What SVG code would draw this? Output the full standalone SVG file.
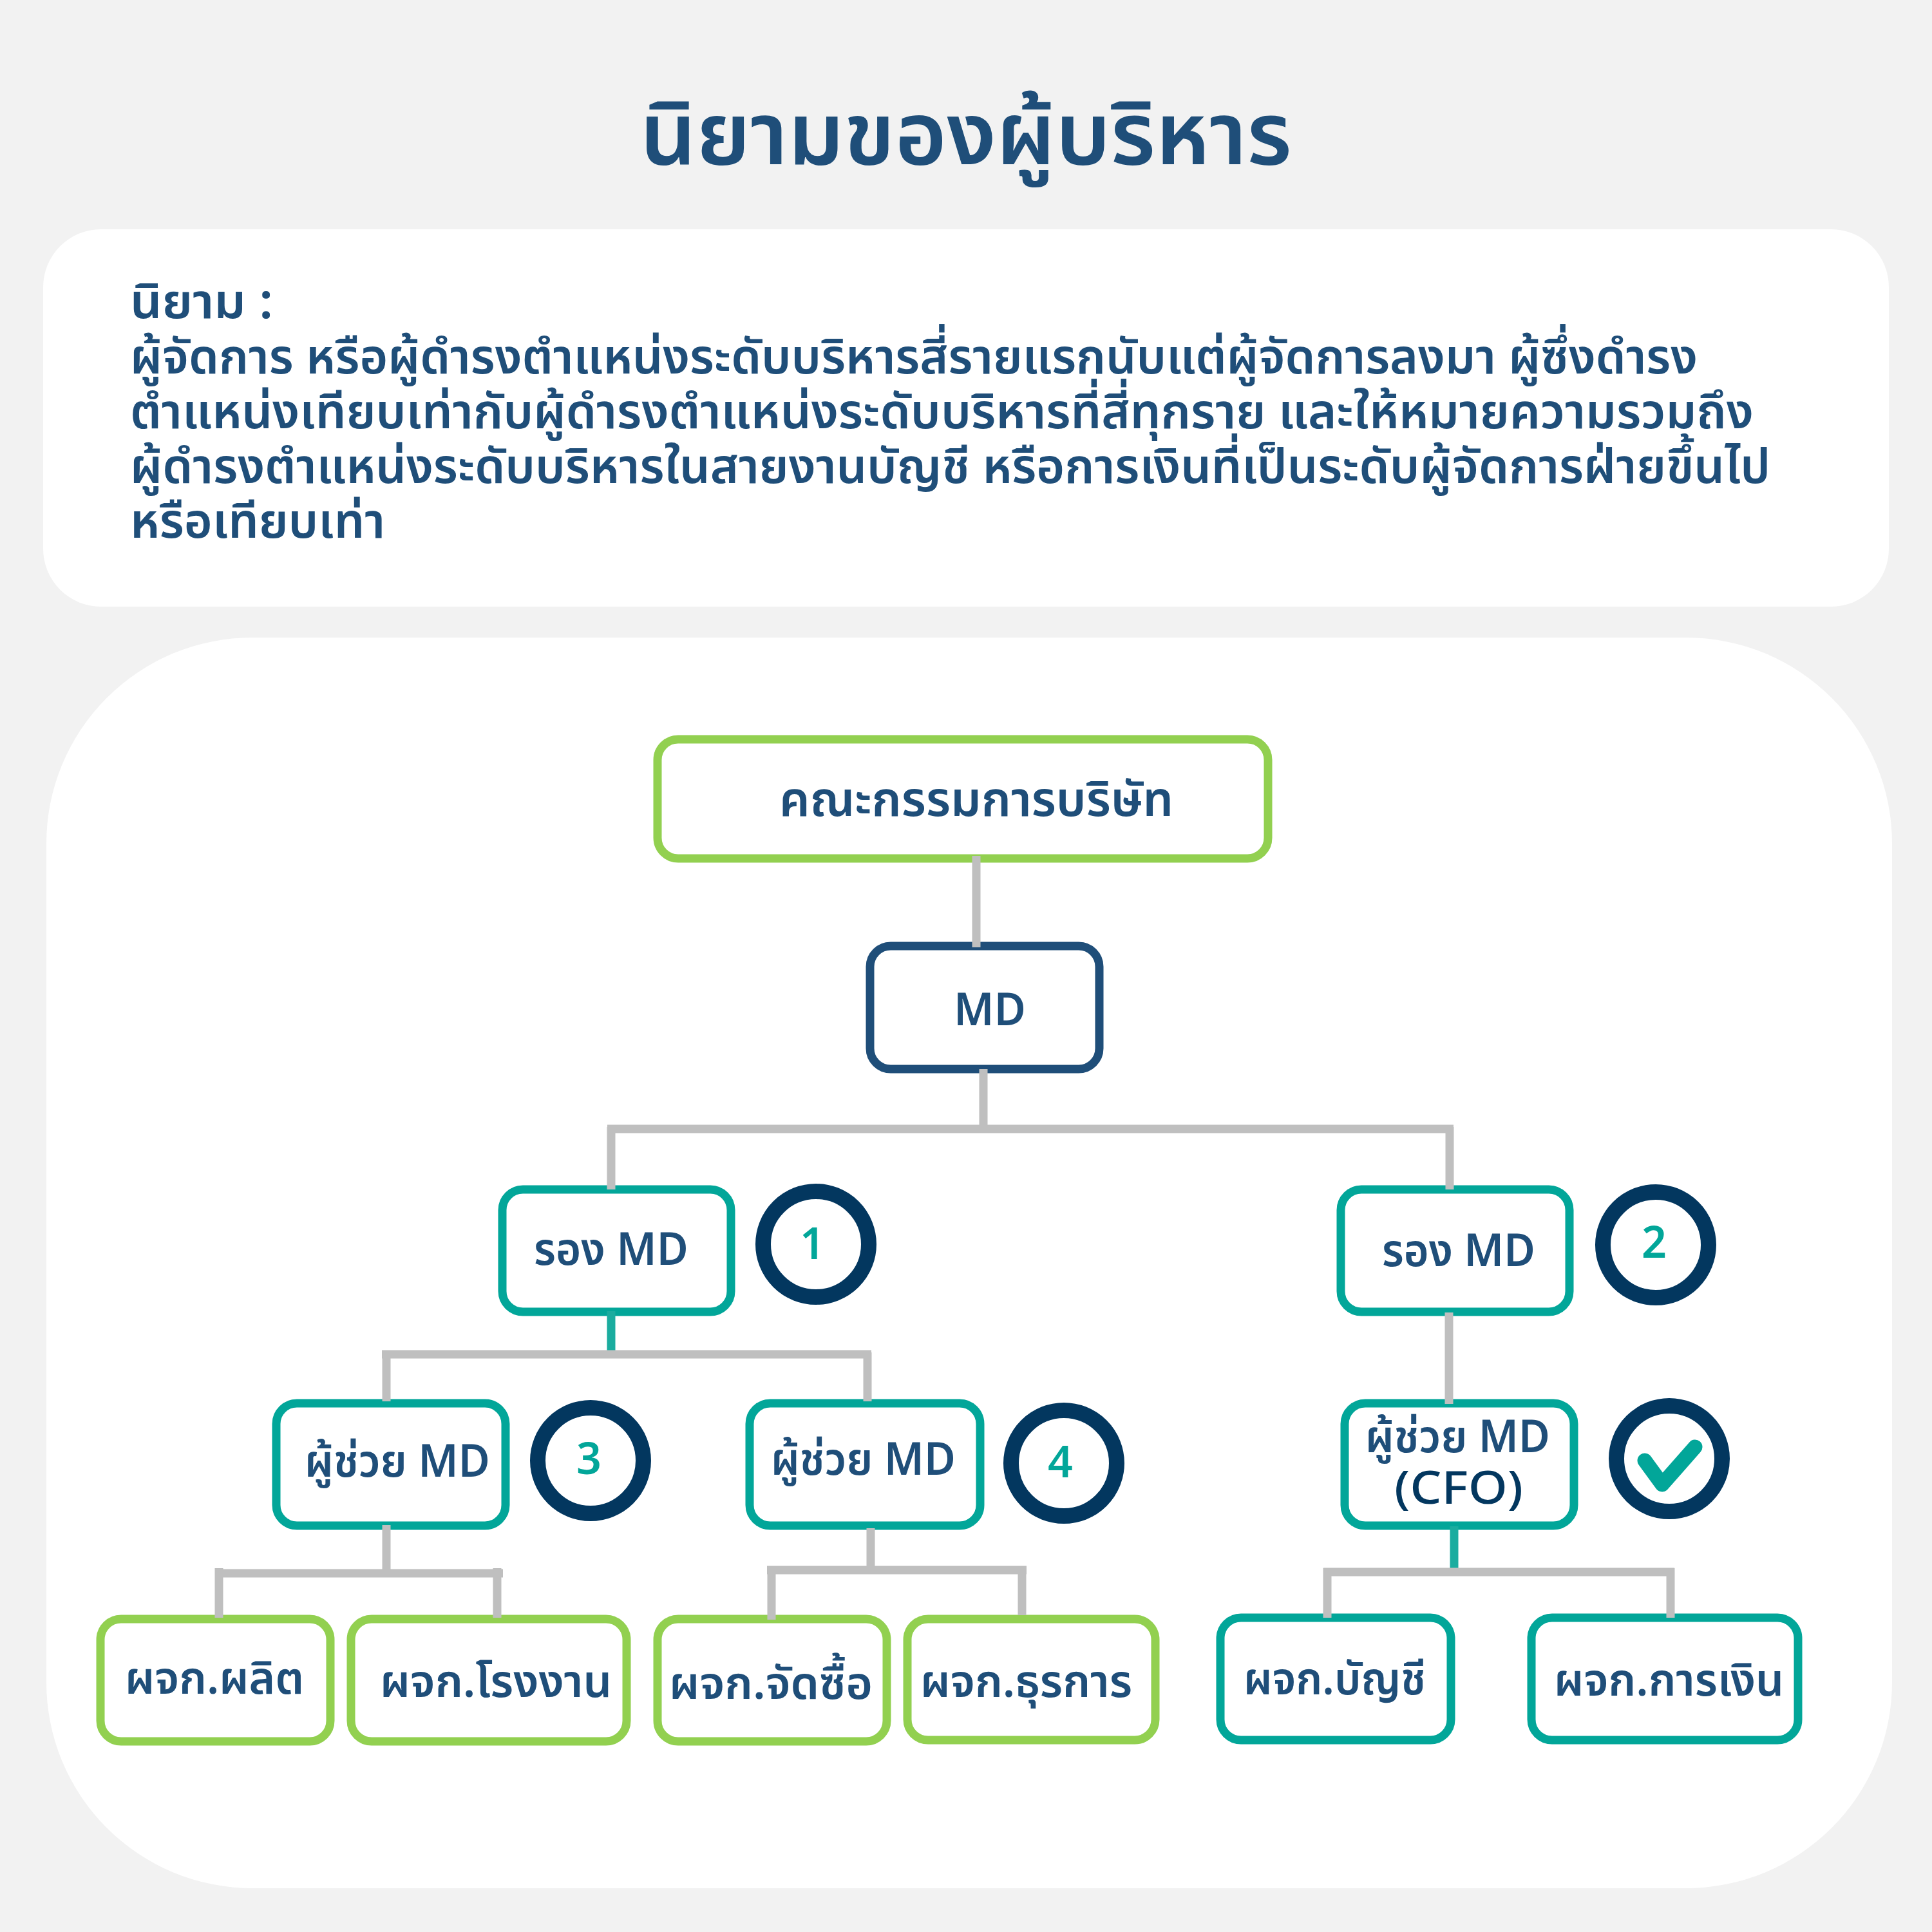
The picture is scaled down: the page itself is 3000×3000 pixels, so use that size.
<svg xmlns="http://www.w3.org/2000/svg" width="3000" height="3000" viewBox="0 0 3000 3000">
<style>
text{font-family:"Noto Sans Thai","Noto Sans","Liberation Sans",sans-serif;font-weight:600;fill:#1f4e79}
.t{font-size:70px}
.b{font-size:75px}
.g{fill:#fff;stroke:#92d050;stroke-width:13}
.e{fill:#fff;stroke:#02a699;stroke-width:13}
.n{fill:#fff;stroke:#1f4e79;stroke-width:13}
.c{fill:#fff;stroke:#03375f;stroke-width:24}
.d{fill:#02a699;font-size:68px}
.l path{fill:none;stroke:#bfbfbf;stroke-width:13}
.l .q{stroke:#1aac9f}
</style>
<rect width="3000" height="3000" fill="#f2f2f2"/>
<rect x="67" y="356" width="2866" height="586" rx="90" fill="#fff"/>
<rect x="72" y="990" width="2866" height="1942" rx="320" fill="#fff"/>
<text id="title" x="994" y="255" style="font-size:136px" textLength="1012" lengthAdjust="spacingAndGlyphs">นิยามของผู้บริหาร</text>
<g id="definition">
<text class="b" x="202" y="494" textLength="222" lengthAdjust="spacingAndGlyphs">นิยาม :</text>
<text class="b" x="202" y="580" textLength="2434" lengthAdjust="spacingAndGlyphs">ผู้จัดการ หรือผู้ดำรงตำแหน่งระดับบริหารสี่รายแรกนับแต่ผู้จัดการลงมา ผู้ซึ่งดำรง</text>
<text class="b" x="202" y="665" textLength="2521" lengthAdjust="spacingAndGlyphs">ตำแหน่งเทียบเท่ากับผู้ดำรงตำแหน่งระดับบริหารที่สี่ทุกราย และให้หมายความรวมถึง</text>
<text class="b" x="202" y="750" textLength="2547" lengthAdjust="spacingAndGlyphs">ผู้ดำรงตำแหน่งระดับบริหารในสายงานบัญชี หรือการเงินที่เป็นระดับผู้จัดการฝ่ายขึ้นไป</text>
<text class="b" x="202" y="835" textLength="396" lengthAdjust="spacingAndGlyphs">หรือเทียบเท่า</text>
</g>
<g id="nodes">
<g id="board"><rect class="g" x="1021" y="1148" width="948" height="185" rx="32"/><text class="t" style="font-size:74px" x="1210" y="1267" textLength="612" lengthAdjust="spacingAndGlyphs">คณะกรรมการบริษัท</text></g>
<g id="md"><rect class="n" x="1351" y="1469" width="356" height="191" rx="32"/><text class="t" x="1481" y="1592" textLength="112" lengthAdjust="spacingAndGlyphs">MD</text></g>
<g id="vp1"><rect class="e" x="780" y="1847" width="355" height="190" rx="32"/><text class="t" x="829" y="1964" textLength="240" lengthAdjust="spacingAndGlyphs">รอง MD</text></g>
<g id="vp2"><rect class="e" x="2082" y="1847" width="355" height="190" rx="32"/><text class="t" x="2146" y="1966" textLength="238" lengthAdjust="spacingAndGlyphs">รอง MD</text></g>
<g id="a3"><rect class="e" x="429" y="2179" width="356" height="190" rx="32"/><text class="t" x="473" y="2293" textLength="288" lengthAdjust="spacingAndGlyphs">ผู้ช่วย MD</text></g>
<g id="a4"><rect class="e" x="1164" y="2179" width="358" height="190" rx="32"/><text class="t" x="1197" y="2290" textLength="287" lengthAdjust="spacingAndGlyphs">ผู้ช่วย MD</text></g>
<g id="cfo"><rect class="e" x="2088" y="2179" width="356" height="190" rx="32"/><text class="t" x="2120" y="2255" textLength="287" lengthAdjust="spacingAndGlyphs">ผู้ช่วย MD</text><text class="t" x="2165" y="2335" style="fill:#03375f;font-weight:500" textLength="200" lengthAdjust="spacingAndGlyphs">(CFO)</text></g>
<g id="m1"><rect class="g" x="156" y="2514" width="357" height="190" rx="32"/><text class="t" x="194" y="2630" textLength="278" lengthAdjust="spacingAndGlyphs">ผจก.ผลิต</text></g>
<g id="m2"><rect class="g" x="545" y="2514" width="428" height="190" rx="32"/><text class="t" x="590" y="2635" textLength="360" lengthAdjust="spacingAndGlyphs">ผจก.โรงงาน</text></g>
<g id="m3"><rect class="g" x="1021" y="2514" width="356" height="190" rx="32"/><text class="t" x="1039" y="2638" textLength="316" lengthAdjust="spacingAndGlyphs">ผจก.จัดซื้อ</text></g>
<g id="m4"><rect class="g" x="1409" y="2514" width="385" height="188" rx="32"/><text class="t" x="1429" y="2635" textLength="329" lengthAdjust="spacingAndGlyphs">ผจก.ธุรการ</text></g>
<g id="m5"><rect class="e" x="1895" y="2512" width="358" height="190" rx="32"/><text class="t" x="1931" y="2631" textLength="283" lengthAdjust="spacingAndGlyphs">ผจก.บัญชี</text></g>
<g id="m6"><rect class="e" x="2378" y="2512" width="414" height="190" rx="32"/><text class="t" x="2413" y="2633" textLength="357" lengthAdjust="spacingAndGlyphs">ผจก.การเงิน</text></g>
<g id="c1"><circle class="c" cx="1267" cy="1932" r="82"/><text class="d" x="1242" y="1955">1</text></g>
<g id="c2"><circle class="c" cx="2571" cy="1933" r="82"/><text class="d" x="2549" y="1953">2</text></g>
<g id="c3"><circle class="c" cx="917" cy="2268" r="82"/><text class="d" x="895" y="2289">3</text></g>
<g id="c4"><circle class="c" cx="1652" cy="2272" r="82"/><text class="d" x="1627" y="2294">4</text></g>
<g id="c5"><circle class="c" cx="2592" cy="2265" r="82"/><path d="M2554 2268L2581 2305L2632 2247" fill="none" stroke="#02a699" stroke-width="23" stroke-linecap="round" stroke-linejoin="round"/></g>
</g>
<g id="connectors" class="l">
<path d="M1516 1329V1471"/>
<path d="M1527 1660V1753"/>
<path d="M943 1753H2257"/>
<path d="M949 1750V1847"/>
<path d="M2251 1750V1847"/>
<path class="q" d="M949 2036V2097"/>
<path d="M593 2103H1353"/>
<path d="M600 2100V2176"/>
<path d="M1347 2100V2176"/>
<path d="M2250 2038V2180"/>
<path d="M600 2368V2437"/>
<path d="M334 2443H781"/>
<path d="M340 2435V2512"/>
<path d="M772 2435V2512"/>
<path d="M1352 2373V2432"/>
<path d="M1191 2438H1594"/>
<path d="M1198 2432V2515"/>
<path d="M1587 2432V2508"/>
<path class="q" d="M2258 2370V2437"/>
<path d="M2055 2441H2600"/>
<path d="M2061 2435V2512"/>
<path d="M2594 2435V2512"/>
</g>
</svg>
